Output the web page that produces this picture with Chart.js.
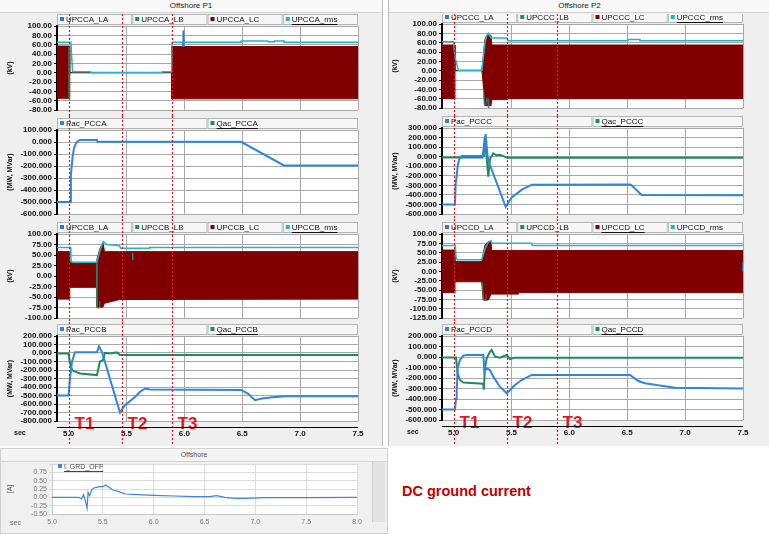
<!DOCTYPE html>
<html lang="en">
<head>
<meta charset="UTF-8">
<title>Offshore P1 / P2</title>
<style>
    body { margin: 0; background: #fff; font-family: "Liberation Sans", Arial, sans-serif; }
    #page { position: relative; width: 769px; height: 535px; overflow: hidden; }
    .col { position: absolute; top: 0; height: 446px; background: #efefef; }
    .head { height: 12px; line-height: 12px; font-size: 8px; text-align: center; background: #f8f8f8; border-bottom: 1px solid #d2d2d2; color: #222; }
    canvas { position: absolute; }
    #offBox { position: absolute; left: 0; top: 448px; width: 388px; height: 86px; background: #f0f0f0; border: 1px solid #d0d0d0; box-sizing: border-box; }
    #offBox .head { font-size: 7px; color: #555; background: #f4f4f4; }
    #scroll { position: absolute; left: 372px; top: 462px; width: 12px; height: 60px; background: #e2e2e2; border-left: 1px solid #cfcfcf; }
    #note { position: absolute; left: 402px; top: 483px; font-size: 14.5px; font-weight: bold; color: #c00000; }
</style>
</head>
<body>
<div id="page">
    <div class="col" style="left:0; width:382px; border-right:1px solid #bcbcbc;"><div class="head">Offshore P1</div></div>
    <div class="col" style="left:388px; width:381px; border-left:1px solid #bcbcbc;"><div class="head">Offshore P2</div></div>
    <div id="offBox"><div class="head">Offshore</div></div>
    <div id="scroll"></div>
    <div id="note">DC ground current</div>
</div>

<script src="https://cdn.jsdelivr.net/npm/chart.js"></script>
<script>
    // time axis (s) and fault instants
    const timeTicks = [5.0, 5.5, 6.0, 6.5, 7.0, 7.5];
    const faultT = [5.0, 5.46, 5.89];
    const faultTags = ['T1', 'T2', 'T3'];

    // y tick labels of each panel
    const kvTicksA = [100, 80, 60, 40, 20, 0, -20, -40, -60, -80];
    const kvTicksB = [100, 75, 50, 25, 0, -25, -50, -75, -100];
    const kvTicksD = [100, 75, 50, 25, 0, -25, -50, -75, -100, -125];
    const pwTicksA = [100, 0, -100, -200, -300, -400, -500, -600];
    const pwTicksB = [200, 100, 0, -100, -200, -300, -400, -500, -600, -700, -800];
    const pwTicksC = [300, 200, 100, 0, -100, -200, -300, -400, -500, -600];
    const pwTicksD = [200, 100, 0, -100, -200, -300, -400, -500, -600];
    const gTicks = [1.0, 0.75, 0.5, 0.25, 0, -0.25, -0.5];
    const gTimeTicks = [5.0, 5.5, 6.0, 6.5, 7.0, 7.5, 8.0];

    // ---- Offshore P1, UPCCA (kV) : LC drawn as its envelope
    const aBandT  = [4.9, 5.01, 5.01, 5.89, 5.89, 7.5];
    const aBandHi = [57, 57, 0, 0, 56, 56];
    const aBandLo = [-55, -55, 0, 0, -56, -56];
    const aRmsT = [4.9, 5.02, 5.025, 5.035, 5.19, 5.19, 5.81, 5.81, 5.89, 5.895, 6.49, 6.49, 6.72, 6.72, 6.78, 6.78, 6.86, 6.86, 7.5];
    const aRmsV = [65, 65, 41, 2, 2, 0.5, 0.5, 2, 2, 65, 65, 68, 68, 66, 66, 68, 68, 65, 65];
    const aLaT = [5.985, 5.99, 5.995];
    const aLaV = [55, 90, 55];
    const aLbT = [5.005, 5.005];
    const aLbV = [55, -55];

    // ---- Offshore P1, PCCA (MW, MVar)
    const aPacT = [4.9, 5.018, 5.02, 5.027, 5.035, 5.047, 5.064, 5.084, 5.1, 5.245, 5.25, 6.49, 6.86, 7.5];
    const aPacV = [-500, -500, -280, -200, -120, -50, -10, 10, 17, 17, 2, 2, -195, -195];
    const aQacT = [];
    const aQacV = [];

    // ---- Offshore P1, UPCCB (kV)
    const bBandT  = [4.9, 5.01, 5.01, 5.24, 5.245, 5.27, 5.297, 5.31, 5.44, 7.5];
    const bBandHi = [58, 58, 32, 32, 40, 65, 80, 58, 58, 58];
    const bBandLo = [-55, -55, -27, -27, -74, -74, -74, -65, -56, -55];
    const bRmsT = [4.9, 5.015, 5.02, 5.03, 5.245, 5.27, 5.3, 5.33, 5.38, 5.44, 5.45, 5.7, 5.7, 7.5];
    const bRmsV = [68, 68, 40, 33, 33, 60, 82, 75, 74, 72, 66, 66, 68, 68];
    const bLaT = [5.55, 5.555];
    const bLaV = [55, 38];
    const bLbT = [5.24, 5.245, 5.265, 5.27];
    const bLbV = [30, -76, -76, -60];

    // ---- Offshore P1, PCCB (MW, MVar)
    const bPacT = [4.9, 5.0, 5.012, 5.03, 5.055, 5.245, 5.263, 5.289, 5.444, 5.487, 5.574, 5.617, 5.66, 5.703, 6.489, 6.549, 6.61, 6.67, 6.74, 6.87, 7.5];
    const bPacV = [-500, -500, -300, -100, 8, 10, 78, 10, -700, -615, -517, -457, -418, -430, -435, -477, -556, -536, -524, -509, -509];
    const bQacT = [4.9, 5.0, 5.012, 5.03, 5.055, 5.1, 5.245, 5.255, 5.27, 5.297, 5.314, 5.357, 5.418, 5.444, 7.5];
    const bQacV = [-5, -5, -123, -200, -220, -241, -260, -200, -103, -83, 3, -5, 7, -24, -24];

    // ---- Offshore P2, UPCCC (kV)
    const cBandT  = [4.9, 5.012, 5.012, 5.245, 5.26, 5.27, 5.286, 5.3, 5.323, 5.33, 5.459, 5.46, 7.5];
    const cBandHi = [55, 55, 0, 0, 40, 66, 76, 76, 76, 55, 55, 55, 55];
    const cBandLo = [-60, -60, 0, 0, -40, -75, -75, -75, -75, -62, -62, -60, -60];
    const cRmsT = [4.9, 4.998, 5.012, 5.041, 5.245, 5.271, 5.286, 5.3, 5.323, 5.459, 5.47, 6.506, 6.506, 6.61, 6.61, 7.5];
    const cRmsV = [62, 62, 30, 1, 1, 60, 75, 80, 70, 70, 64, 64, 67, 67, 64, 64];
    const cLaT = [5.295, 5.3, 5.305];
    const cLaV = [-60, -80, -60];
    const cLbT = [5.26, 5.265, 5.28, 5.285];
    const cLbV = [-40, -72, -72, -58];

    // ---- Offshore P2, PCCC (MW, MVar)
    const cPacT = [4.9, 5.012, 5.018, 5.027, 5.035, 5.047, 5.07, 5.263, 5.277, 5.294, 5.3, 5.45, 5.5, 5.59, 5.675, 6.524, 6.538, 6.624, 7.5];
    const cPacV = [-500, -500, -280, -200, -100, -30, 8, 8, 237, 0, -40, -525, -430, -345, -293, -290, -300, -400, -405];
    const cQacT = [4.9, 5.25, 5.262, 5.27, 5.285, 5.3, 5.315, 5.343, 5.37, 5.4, 5.43, 5.46, 7.5];
    const cQacV = [-8, -8, 100, 210, 0, -210, -20, 35, 15, 20, 5, -12, -12];

    // ---- Offshore P2, UPCCD (kV)
    const dBandT  = [4.9, 5.012, 5.012, 5.243, 5.257, 5.271, 5.3, 5.323, 5.329, 5.56, 5.56, 7.5];
    const dBandHi = [57, 57, 26, 26, 50, 70, 80, 80, 56, 56, 56, 56];
    const dBandLo = [-57, -57, -28, -28, -77, -77, -77, -61, -61, -61, -57, -57];
    const dRmsT = [4.9, 5.015, 5.021, 5.03, 5.243, 5.271, 5.3, 5.323, 5.33, 5.675, 5.68, 7.5];
    const dRmsV = [69, 69, 40, 31, 31, 60, 78, 82, 75, 75, 69, 69];
    const dLaT = [7.495, 7.5];
    const dLaV = [0, 25];
    const dLbT = [5.25, 5.257, 5.272, 5.28];
    const dLbV = [-30, -77, -77, -62];

    // ---- Offshore P2, PCCD (MW, MVar)
    const dPacT = [4.9, 5.012, 5.021, 5.027, 5.035, 5.055, 5.084, 5.113, 5.257, 5.266, 5.286, 5.314, 5.343, 5.4, 5.459, 5.487, 5.53, 5.588, 5.675, 6.524, 6.596, 6.653, 6.711, 6.768, 6.855, 6.912, 7.5];
    const dPacV = [-500, -500, -400, -330, -108, -28, 13, 19, 19, -140, -108, -124, -187, -283, -346, -314, -267, -219, -171, -171, -229, -250, -260, -270, -283, -292, -300];
    const dQacT = [4.9, 5.021, 5.035, 5.055, 5.084, 5.255, 5.262, 5.27, 5.286, 5.314, 5.329, 5.358, 5.4, 5.459, 5.487, 5.53, 7.5];
    const dQacV = [-5, -5, -155, -219, -244, -254, -310, -108, -13, 50, 67, 3, -6, 19, -19, -6, -6];

    // ---- Offshore, DC ground current I_GRD_OFF (A)
    const gT = [5.0, 5.26, 5.29, 5.31, 5.33, 5.345, 5.355, 5.37, 5.39, 5.41, 5.44, 5.47, 5.5, 5.53, 5.56, 5.6, 5.65, 5.72, 5.8, 6.0, 6.2, 6.4, 6.55, 6.62, 6.7, 6.8, 6.9, 7.1, 7.5, 8.0];
    const gV = [0.0, 0.0, -0.05, 0.08, -0.12, -0.32, 0.15, 0.05, 0.22, 0.28, 0.3, 0.33, 0.32, 0.37, 0.3, 0.22, 0.18, 0.1, 0.09, 0.06, 0.04, 0.02, 0.02, 0.05, 0.0, -0.03, -0.03, -0.01, -0.01, 0.0];

    const LA = '#2b7bd6', LB = '#1f8a70', LC = '#800000', RMS = '#22b4c8';
    const PAC = '#2e86de', QAC = '#1e8a66';

    function pts(t, v) {
        return t.map((x, i) => ({ x: x, y: v[i] }));
    }

    function line(label, t, v, color, width, order) {
        return { label: label, key: true, data: pts(t, v), borderColor: color, backgroundColor: color, borderWidth: width, fill: false, order: order };
    }

    // the phase C waveform is too dense to draw point by point, so its envelope is filled
    function band(label, t, hi, lo) {
        return [
            { label: label, key: true, data: pts(t, hi), borderColor: LC, backgroundColor: LC, borderWidth: 1, fill: '+1', order: 4 },
            { label: label + ' low', data: pts(t, lo), borderColor: LC, borderWidth: 1, fill: false, order: 4 }
        ];
    }

    function voltSets(n, laT, laV, lbT, lbV, bT, bHi, bLo, rT, rV) {
        return [line(n + '_LA', laT, laV, LA, 1, 2), line(n + '_LB', lbT, lbV, LB, 1, 3)]
            .concat(band(n + '_LC', bT, bHi, bLo))
            .concat([line(n + '_rms', rT, rV, RMS, 1.5, 1)]);
    }

    function powSets(n, pT, pV, qT, qV) {
        return [line('Pac_' + n, pT, pV, PAC, 2, 1), line('Qac_' + n, qT, qV, QAC, 2, 2)];
    }

    const plotBg = {
        id: 'plotBg',
        beforeDraw(chart) {
            const a = chart.chartArea, c = chart.ctx;
            c.save();
            c.fillStyle = '#fff';
            c.fillRect(a.left, a.top, a.right - a.left, a.bottom - a.top);
            c.restore();
        }
    };

    const keyCells = {
        id: 'keyCells',
        afterDraw(chart, args, o) {
            const { ctx, chartArea: a } = chart;
            const keys = chart.data.datasets.filter(d => d.key);
            const w = (a.right - a.left) / keys.length;
            ctx.save();
            ctx.font = (o.size || 8) + 'px "Liberation Sans"';
            ctx.textBaseline = 'middle';
            keys.forEach((d, i) => {
                let x = a.left + i * w, y = a.top - 12;
                if (o.plain) { x = a.left + 3; y = a.top - 3; }
                else {
                    ctx.fillStyle = '#f7f7f7';
                    ctx.fillRect(x, y, w, 11);
                    ctx.strokeStyle = '#b5b5b5';
                    ctx.lineWidth = 1;
                    ctx.strokeRect(x + 0.5, y + 0.5, w - 1, 10);
                }
                ctx.fillStyle = d.borderColor;
                ctx.fillRect(x + 3, y + 3, 4, 4);
                ctx.fillStyle = o.plain ? '#444' : '#111';
                ctx.fillText(d.label, x + 9, y + 6);
                if (o.underline === i) {
                    const tw = ctx.measureText(d.label).width;
                    ctx.fillRect(x + 9, y + 10, tw, 1);
                }
            });
            ctx.restore();
        }
    };

    const faults = {
        id: 'faults',
        afterDraw(chart, args, o) {
            if (!o.show) return;
            const { ctx, chartArea: a } = chart;
            const x = chart.scales.x;
            ctx.save();
            ctx.strokeStyle = '#e8141b';
            ctx.fillStyle = '#e8141b';
            ctx.lineWidth = 1.2;
            ctx.setLineDash([2, 2]);
            ctx.font = 'bold 17px "Liberation Sans"';
            faultT.forEach((t, i) => {
                const px = Math.round(x.getPixelForValue(t)) + 0.5;
                ctx.beginPath();
                ctx.moveTo(px, 0);
                ctx.lineTo(px, chart.height);
                ctx.stroke();
                if (o.tags) ctx.fillText(faultTags[i], px + 5, a.bottom + 8);
            });
            ctx.restore();
        }
    };

    const secAxis = {
        id: 'secAxis',
        afterDraw(chart, args, o) {
            if (!o.show) return;
            const { ctx, chartArea: a } = chart;
            ctx.save();
            if (o.line) {
                ctx.fillStyle = '#000';
                ctx.fillRect(a.left, a.bottom + 6, a.right - a.left, 1);
            }
            ctx.fillStyle = o.color || '#111';
            ctx.font = (o.bold ? 'bold ' : '') + '7px "Liberation Sans"';
            ctx.textBaseline = 'middle';
            ctx.fillText('sec', o.x, a.bottom + o.dy);
            ctx.restore();
        }
    };

    Chart.register(plotBg, keyCells, faults, secAxis);
    Chart.defaults.font.family = '"Liberation Sans", Arial, sans-serif';

    function addCanvas(left, top, w, h) {
        const c = document.createElement('canvas');
        c.width = w;
        c.height = h;
        c.style.left = left + 'px';
        c.style.top = top + 'px';
        c.style.width = w + 'px';
        c.style.height = h + 'px';
        document.getElementById('page').appendChild(c);
        return c;
    }

    function makePanel(p) {
        const left = p.col ? 385 : 0, w = p.col ? 384 : 385;
        const h = p.bottom - p.top;
        const axisH = p.axis ? p.bottom - p.plotBottom : 0;
        const cv = addCanvas(left, p.top, w, h);
        return new Chart(cv, {
            type: 'line',
            data: { datasets: p.sets },
            options: {
                responsive: false, animation: false, events: [], devicePixelRatio: 1,
                layout: { padding: { left: 0, right: w - 358, top: p.plotTop - p.top, bottom: p.axis ? 0 : p.bottom - p.plotBottom } },
                elements: { point: { radius: 0 }, line: { tension: 0 } },
                plugins: {
                    legend: { display: false }, tooltip: { enabled: false },
                    keyCells: { underline: p.underline },
                    faults: { show: true, tags: !!p.axis },
                    secAxis: { show: !!p.axis, line: true, bold: true, x: p.col ? 22 : 14, dy: 12 }
                },
                scales: {
                    x: {
                        type: 'linear', min: 4.9, max: 7.5,
                        afterBuildTicks: s => { s.ticks = timeTicks.map(v => ({ value: v })); },
                        afterFit: s => { s.height = axisH; s.paddingLeft = 0; s.paddingRight = 0; },
                        border: { display: false },
                        grid: { drawTicks: false, color: c => (c.tick && c.tick.value === 5.0) ? 'rgba(0,0,0,0)' : '#a8a8a8' },
                        ticks: { display: !!p.axis, autoSkip: false, padding: 8, maxRotation: 0, color: '#111', font: { size: 8, weight: 'bold' }, callback: v => v.toFixed(1) }
                    },
                    y: {
                        min: p.yTicks[p.yTicks.length - 1], max: p.yTicks[0],
                        afterBuildTicks: s => { s.ticks = p.yTicks.map(v => ({ value: v })); },
                        afterFit: s => { s.width = 57; s.paddingTop = 0; s.paddingBottom = 0; },
                        border: { color: '#000', width: 2 },
                        grid: { color: '#a8a8a8', tickColor: '#000', tickLength: 3 },
                        ticks: { autoSkip: false, padding: 2, color: '#111', font: { size: 8, weight: 'bold' }, callback: v => v.toFixed(p.dec) },
                        title: { display: true, text: p.yTitle, color: '#111', font: { size: 7, weight: 'bold' }, padding: { top: 6, bottom: 0 } }
                    }
                }
            }
        });
    }

    const panels = [
        { col: 0, top: 14, bottom: 116, plotTop: 26, plotBottom: 110, yTicks: kvTicksA, dec: 2, yTitle: '(kV)', underline: 3,
          sets: voltSets('UPCCA', aLaT, aLaV, aLbT, aLbV, aBandT, aBandHi, aBandLo, aRmsT, aRmsV) },
        { col: 0, top: 116, bottom: 219, plotTop: 130, plotBottom: 214, yTicks: pwTicksA, dec: 3, yTitle: '(MW, MVar)', underline: 1,
          sets: powSets('PCCA', aPacT, aPacV, aQacT, aQacV) },
        { col: 0, top: 219, bottom: 322, plotTop: 234, plotBottom: 318, yTicks: kvTicksB, dec: 2, yTitle: '(kV)', underline: 3,
          sets: voltSets('UPCCB', bLaT, bLaV, bLbT, bLbV, bBandT, bBandHi, bBandLo, bRmsT, bRmsV) },
        { col: 0, top: 322, bottom: 446, plotTop: 336, plotBottom: 421, yTicks: pwTicksB, dec: 3, yTitle: '(MW, MVar)', underline: 1, axis: true,
          sets: powSets('PCCB', bPacT, bPacV, bQacT, bQacV) },
        { col: 1, top: 14, bottom: 116, plotTop: 24, plotBottom: 108, yTicks: kvTicksA, dec: 2, yTitle: '(kV)', underline: 3,
          sets: voltSets('UPCCC', cLaT, cLaV, cLbT, cLbV, cBandT, cBandHi, cBandLo, cRmsT, cRmsV) },
        { col: 1, top: 116, bottom: 219, plotTop: 128, plotBottom: 214, yTicks: pwTicksC, dec: 3, yTitle: '(MW, MVar)', underline: 1,
          sets: powSets('PCCC', cPacT, cPacV, cQacT, cQacV) },
        { col: 1, top: 219, bottom: 322, plotTop: 234, plotBottom: 318, yTicks: kvTicksD, dec: 2, yTitle: '(kV)', underline: 2,
          sets: voltSets('UPCCD', dLaT, dLaV, dLbT, dLbV, dBandT, dBandHi, dBandLo, dRmsT, dRmsV) },
        { col: 1, top: 322, bottom: 446, plotTop: 336, plotBottom: 420, yTicks: pwTicksD, dec: 3, yTitle: '(MW, MVar)', underline: 1, axis: true,
          sets: powSets('PCCD', dPacT, dPacV, dQacT, dQacV) }
    ];
    panels.forEach(makePanel);

    // bottom strip: DC ground current
    const gCanvas = addCanvas(0, 448, 388, 87);
    new Chart(gCanvas, {
        type: 'line',
        data: { datasets: [{ label: 'I_GRD_OFF', key: true, data: pts(gT, gV), borderColor: '#3d86d8', borderWidth: 1.2, fill: false }] },
        options: {
            responsive: false, animation: false, events: [], devicePixelRatio: 1,
            layout: { padding: { left: 0, right: 388 - 357, top: 16, bottom: 0 } },
            elements: { point: { radius: 0 }, line: { tension: 0 } },
            plugins: {
                legend: { display: false }, tooltip: { enabled: false },
                keyCells: { plain: true, underline: 0, size: 7 },
                faults: { show: false },
                secAxis: { show: true, line: false, color: '#666', x: 10, dy: 9 }
            },
            scales: {
                x: {
                    type: 'linear', min: 5, max: 8,
                    afterBuildTicks: s => { s.ticks = gTimeTicks.map(v => ({ value: v })); },
                    afterFit: s => { s.height = 21; s.paddingLeft = 0; s.paddingRight = 0; },
                    border: { color: '#c8c8c8' },
                    grid: { drawTicks: false, color: '#dcdcdc' },
                    ticks: { autoSkip: false, padding: 4, maxRotation: 0, color: '#777', font: { size: 7 }, callback: v => v.toFixed(1) }
                },
                y: {
                    min: -0.5, max: 1.0,
                    afterBuildTicks: s => { s.ticks = gTicks.map(v => ({ value: v })); },
                    afterFit: s => { s.width = 52; s.paddingTop = 0; s.paddingBottom = 0; },
                    border: { color: '#c8c8c8' },
                    grid: { color: '#dcdcdc', tickLength: 3 },
                    ticks: { autoSkip: false, padding: 2, color: '#777', font: { size: 7 }, callback: v => v === 1 ? '' : v.toFixed(2) },
                    title: { display: true, text: '[A]', color: '#555', font: { size: 7 }, padding: { top: 6, bottom: 0 } }
                }
            }
        }
    });
</script>
</body>
</html>
